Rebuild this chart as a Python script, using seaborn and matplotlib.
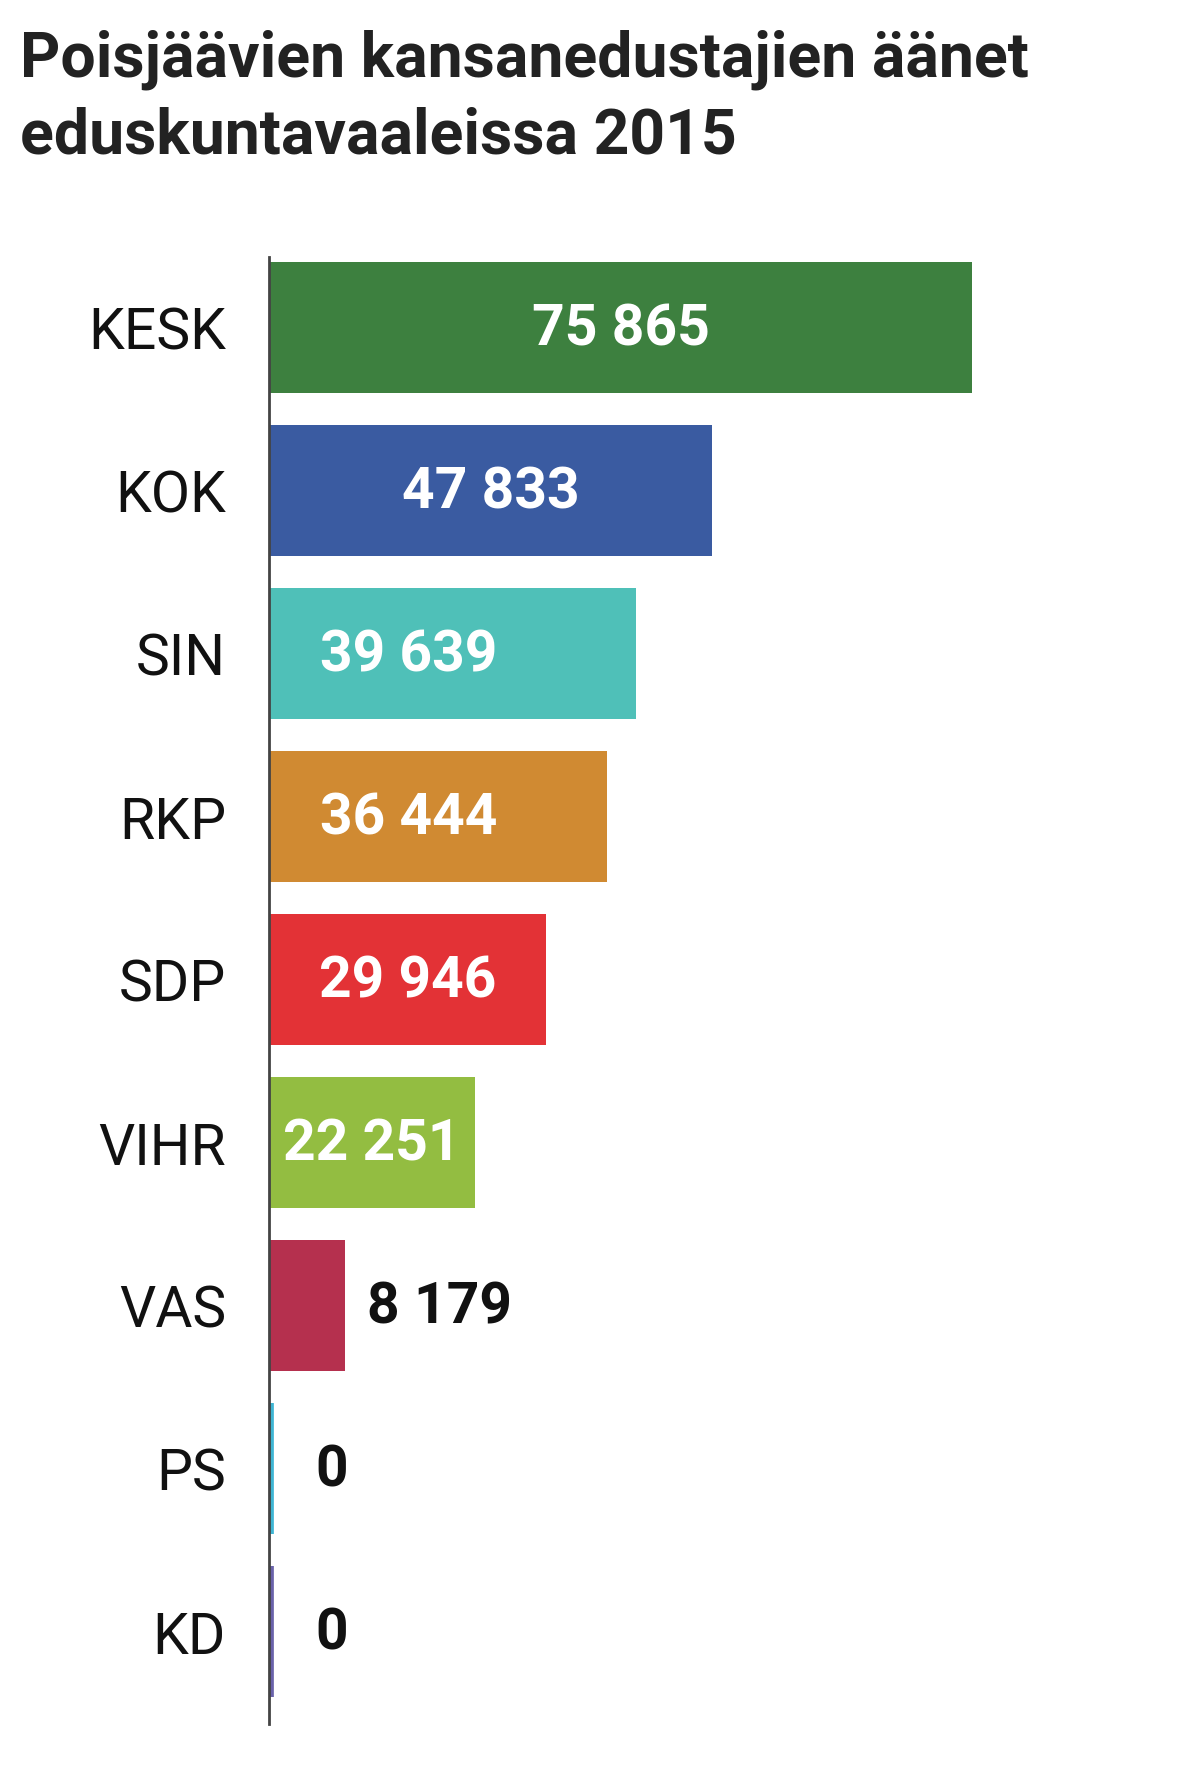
import matplotlib
matplotlib.use("Agg")
import matplotlib.pyplot as plt
import seaborn as sns
import pandas as pd

# ---- data ----
parties = ["KESK", "KOK", "SIN", "RKP", "SDP", "VIHR", "VAS", "PS", "KD"]
votes = [75865, 47833, 39639, 36444, 29946, 22251, 8179, 0, 0]
bar_colors = ["#3d803f", "#3a5ba1", "#4fc0b8", "#d08a32", "#e33236",
              "#93bd41", "#b5304e", "#3fb5d3", "#6a62aa"]
label_mode = ["center", "center", "left", "left", "center", "center",
              "outside", "outside", "outside"]
title_lines = ["Poisjäävien kansanedustajien äänet", "eduskuntavaaleissa 2015"]

sns.set_style("white")
plt.rcParams["font.family"] = ["Roboto", "DejaVu Sans"]

W, H = 1199, 1790
DPI = 100
fig = plt.figure(figsize=(W / DPI, H / DPI), dpi=DPI)
fig.patch.set_facecolor("white")

ax_left, ax_right = 269, 269 + 703 * 80000 / 75865
ax_top, ax_bot = 258, 1725
ax = fig.add_axes([ax_left / W, 1 - ax_bot / H, (ax_right - ax_left) / W, (ax_bot - ax_top) / H])

df = pd.DataFrame({"party": parties, "votes": votes})
sns.barplot(data=df, x="votes", y="party", hue="party", palette=bar_colors,
            legend=False, saturation=1, width=131 / 163, ax=ax, linewidth=0)

ax.set_xlim(0, 80000)
ax.set_ylim(8.5675, -0.4325)

# make zero-value bars visible as a thin stripe
for patch, v, c in zip(ax.patches, votes, bar_colors):
    if v == 0:
        patch.set_edgecolor(c)
        patch.set_linewidth(7.0)
        patch.set_joinstyle("miter")

for s in ["top", "right", "bottom"]:
    ax.spines[s].set_visible(False)
ax.spines["left"].set_color("#444444")
ax.spines["left"].set_linewidth(2.0)
ax.spines["left"].set_zorder(5)
ax.set_xticks([])
ax.set_xlabel("")
ax.set_ylabel("")
ax.tick_params(axis="y", length=0, pad=31, labelsize=41, labelcolor="#111111")

ppu = (ax.transData.transform((1000, 0))[0] - ax.transData.transform((0, 0))[0]) / 1000.0
PX = 72.0 / DPI  # points per pixel

for i, (v, mode) in enumerate(zip(votes, label_mode)):
    txt = f"{v:,}".replace(",", " ")
    if mode == "center":
        ax.annotate(txt, xy=(v / 2, i), xytext=(0, 2.9), textcoords="offset points",
                    ha="center", va="center_baseline", fontsize=41, fontweight="bold",
                    color="white")
    elif mode == "left":
        ax.annotate(txt, xy=(0, i), xytext=(51 * PX, 2.9), textcoords="offset points",
                    ha="left", va="center_baseline", fontsize=41, fontweight="bold",
                    color="white")
    else:
        off_px = max(22, 46 - v * ppu)
        ax.annotate(txt, xy=(v, i), xytext=(off_px * PX, 2.9), textcoords="offset points",
                    ha="left", va="center_baseline", fontsize=41, fontweight="bold",
                    color="#111111", annotation_clip=False)

fig.text(20 / W, 1 - 76 / H, title_lines[0], ha="left", va="baseline",
         fontsize=45, fontweight="bold", color="#222222")
fig.text(20 / W, 1 - 153 / H, title_lines[1], ha="left", va="baseline",
         fontsize=45, fontweight="bold", color="#222222")

fig.savefig("out.png", dpi=DPI, facecolor="white")
